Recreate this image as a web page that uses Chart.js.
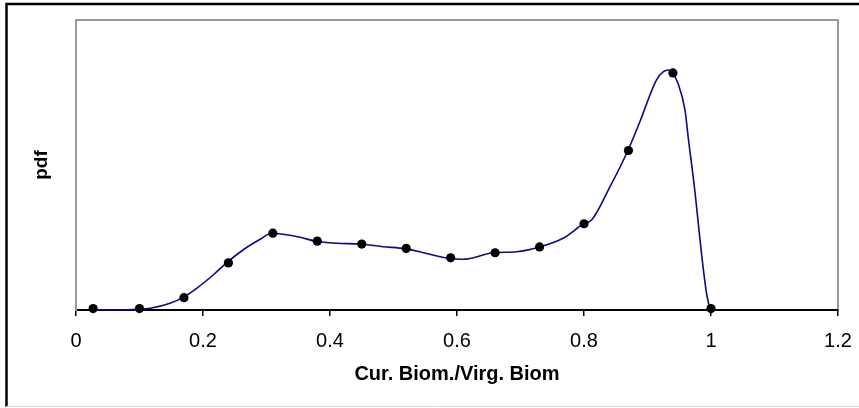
<!DOCTYPE html>
<html>
<head>
<meta charset="utf-8">
<script src="https://cdn.jsdelivr.net/npm/chart.js@4/dist/chart.umd.min.js"></script>
<style>
  html, body { margin: 0; padding: 0; background: #fff; }
  #wrap { width: 859px; height: 408px; }
</style>
</head>
<body>
<div id="wrap"><canvas id="c" width="859" height="408"></canvas></div>
<script>
// Binned estimates (dots)
const binX = [0.027, 0.10, 0.17, 0.24, 0.31, 0.38, 0.45, 0.52, 0.59, 0.66, 0.73, 0.80, 0.87, 0.94, 1.00];
const binPdf = [0.02, 0.02, 0.17, 0.65, 1.06, 0.95, 0.91, 0.85, 0.72, 0.79, 0.87, 1.19, 2.20, 3.27, 0.02];

// Smoothed density curve
const curveX = [0.025, 0.099, 0.117, 0.148, 0.168, 0.190, 0.216, 0.238, 0.263, 0.290, 0.308, 0.326, 0.353,
                0.378, 0.411, 0.447, 0.484, 0.518, 0.547, 0.586, 0.610, 0.657, 0.694, 0.730, 0.767, 0.799,
                0.812, 0.841, 0.869, 0.888, 0.914, 0.925, 0.933, 0.939, 0.948, 0.959, 0.964, 0.975, 0.985,
                0.993, 0.998];
const curvePdf = [0.00, 0.01, 0.023, 0.092, 0.170, 0.299, 0.483, 0.658, 0.828, 0.975, 1.058, 1.044, 1.003,
                  0.948, 0.920, 0.910, 0.873, 0.846, 0.790, 0.713, 0.699, 0.790, 0.804, 0.869, 0.989, 1.186,
                  1.241, 1.701, 2.197, 2.597, 3.172, 3.287, 3.310, 3.273, 3.127, 2.759, 2.390, 1.610, 0.782,
                  0.230, 0.023];

// Axis ticks
const xTicks = [0, 0.2, 0.4, 0.6, 0.8, 1, 1.2];

const frame = {
  id: 'frame',
  beforeDraw(chart) {
    const ctx = chart.ctx;
    ctx.save();
    ctx.fillStyle = '#fff';
    ctx.fillRect(0, 0, chart.width, chart.height);
    ctx.strokeStyle = '#000';
    ctx.lineWidth = 2.5;
    ctx.beginPath();
    ctx.moveTo(6.5, 407);
    ctx.lineTo(6.5, 4);
    ctx.lineTo(chart.width, 4);
    ctx.stroke();
    ctx.strokeStyle = '#d8d8d8';
    ctx.lineWidth = 1;
    ctx.beginPath();
    ctx.moveTo(6, 406.5);
    ctx.lineTo(chart.width, 406.5);
    ctx.stroke();
    const a = chart.chartArea;
    ctx.strokeStyle = '#999';
    ctx.lineWidth = 2;
    ctx.beginPath();
    ctx.moveTo(a.left, a.top);
    ctx.lineTo(a.right, a.top);
    ctx.lineTo(a.right, a.bottom);
    ctx.stroke();
    ctx.restore();
  }
};

new Chart(document.getElementById('c'), {
  type: 'scatter',
  data: {
    datasets: [
      {
        data: curveX.map((x, i) => ({ x, y: curvePdf[i] })),
        showLine: true,
        borderColor: '#0a0a8a',
        borderWidth: 1.6,
        pointRadius: 0,
        cubicInterpolationMode: 'monotone',
        clip: false,
        order: 2
      },
      {
        data: binX.map((x, i) => ({ x, y: binPdf[i] })),
        showLine: false,
        pointRadius: 4.6,
        pointBackgroundColor: '#000',
        pointBorderColor: '#000',
        pointBorderWidth: 0,
        clip: false,
        order: 1
      }
    ]
  },
  options: {
    responsive: false,
    animation: false,
    devicePixelRatio: 1,
    layout: { padding: { left: 6, right: 21, top: 20, bottom: 18 } },
    plugins: { legend: { display: false }, tooltip: { enabled: false } },
    scales: {
      x: {
        type: 'linear',
        min: 0,
        max: 1.2,
        afterFit(s) { s.height = 80; s.paddingLeft = 0; s.paddingRight = 0; },
        afterBuildTicks(s) { s.ticks = xTicks.map(v => ({ value: v })); },
        ticks: {
          color: '#000',
          padding: 13,
          maxRotation: 0,
          font: { family: 'Liberation Sans, Arial, sans-serif', size: 20 },
          callback: v => String(v)
        },
        grid: { display: true, drawOnChartArea: false, tickLength: 6, color: '#000', lineWidth: 1.5 },
        border: { display: true, color: '#000', width: 2 },
        title: {
          display: true,
          text: 'Cur. Biom./Virg. Biom',
          color: '#000',
          padding: { top: 0, bottom: 4 },
          font: { family: 'Liberation Sans, Arial, sans-serif', size: 20, weight: 'bold' }
        }
      },
      y: {
        type: 'linear',
        min: 0,
        max: 4,
        afterFit(s) { s.width = 70; },
        ticks: { display: false },
        grid: { display: false },
        border: { display: true, color: '#999', width: 2 },
        title: {
          display: true,
          text: 'pdf',
          color: '#000',
          padding: { top: 24, bottom: 0 },
          font: { family: 'Liberation Sans, Arial, sans-serif', size: 19, weight: 'bold' }
        }
      }
    }
  },
  plugins: [frame]
});
</script>
</body>
</html>
